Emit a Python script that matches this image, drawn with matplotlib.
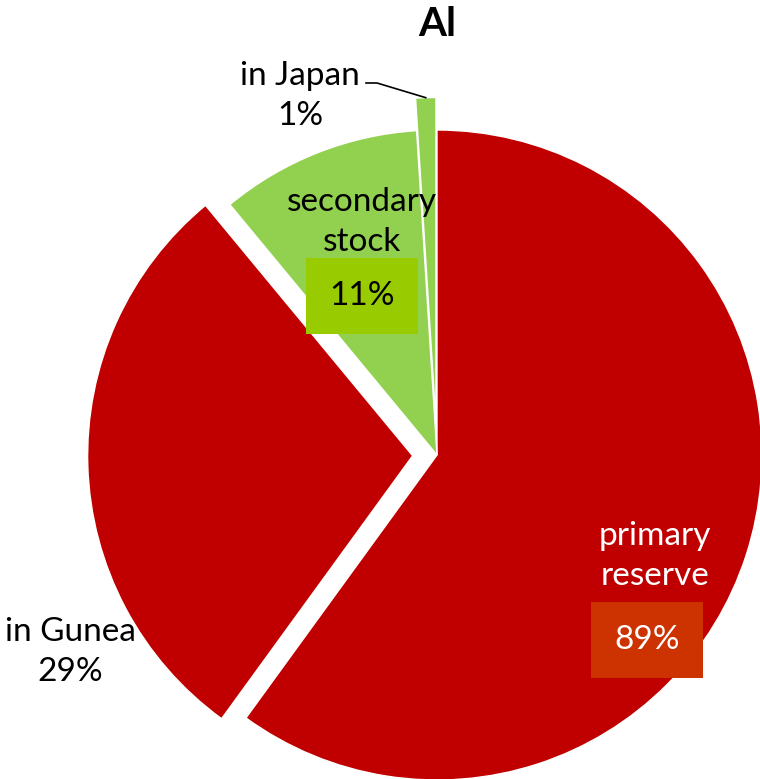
import numpy as np
import matplotlib
matplotlib.use('Agg')
import matplotlib.pyplot as plt

# slices, clockwise from 12 o'clock
slice_names  = ['primary other', 'in Gunea', 'secondary other', 'in Japan']
slice_values = [60, 29, 10, 1]
slice_colors = ['#C00000', '#C00000', '#92D050', '#92D050']
explode      = [0, 0.075, 0, 0.1]

primary_total   = slice_values[0] + slice_values[1]   # 89
secondary_total = slice_values[2] + slice_values[3]   # 11

plt.rcParams['font.family'] = ['Lato', 'DejaVu Sans']

W, H = 760, 779
CX, CY, R = 437, 455, 325


def px(x, y):
    # pixel position in the picture -> data coords of the pie
    return (x - CX) / R, (CY - y) / R


fig = plt.figure(figsize=(W / 100, H / 100), dpi=100)
ax = fig.add_axes([0, 0, 1, 1])

wedges, _ = ax.pie(slice_values, colors=slice_colors, explode=explode,
                   startangle=90, counterclock=False, radius=1,
                   wedgeprops=dict(edgecolor='white', linewidth=1))

x0, y0 = px(0, H)
x1, y1 = px(W, 0)
ax.set_xlim(x0, x1)
ax.set_ylim(y0, y1)
ax.set_aspect('auto')
ax.axis('off')

fs = 24
ls = 1.4
ax.text(*px(437, 25), 'Al', ha='center', va='center', fontsize=29, fontweight='bold')

# primary reserve
ax.text(*px(655, 556), 'primary\nreserve', ha='center', va='center', fontsize=fs,
        color='white', linespacing=ls)
ax.text(*px(647, 640), f'{primary_total}%', ha='center', va='center', fontsize=fs,
        color='white', bbox=dict(boxstyle='square,pad=0.7', fc='#CC3300', ec='none'))

# secondary stock
ax.text(*px(362, 222), 'secondary\nstock', ha='center', va='center', fontsize=fs,
        color='black', linespacing=ls)
ax.text(*px(362, 296), f'{secondary_total}%', ha='center', va='center', fontsize=fs,
        color='black', bbox=dict(boxstyle='square,pad=0.7', fc='#99CC00', ec='none'))

# in Gunea
ax.text(*px(70, 652), f'{slice_names[1]}\n{slice_values[1]}%', ha='center', va='center',
        fontsize=fs, linespacing=ls)

# in Japan with leader line to the exploded wedge tip
w = wedges[3]
mid = np.deg2rad((w.theta1 + w.theta2) / 2)
tip = (w.center[0] + w.r * np.cos(mid), w.center[1] + w.r * np.sin(mid))
ax.text(*px(300, 96), f'{slice_names[3]}\n{slice_values[3]}%', ha='center', va='center',
        fontsize=fs, linespacing=ls)
kx, ky = px(377, 83)
sx, _ = px(366, 83)
ax.plot([sx, kx, tip[0]], [ky, ky, tip[1]], color='black', lw=1.2)

fig.savefig('out.png', dpi=100)
